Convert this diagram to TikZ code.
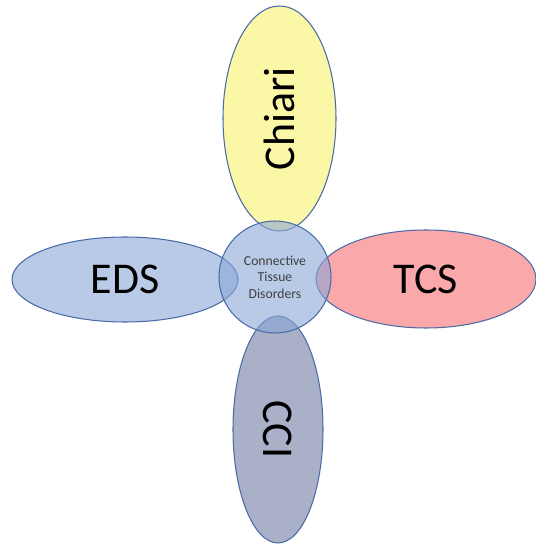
\documentclass[tikz,border=0pt]{standalone}
\usepackage{fontspec}
\setmainfont{Carlito}
\usepackage{xcolor}
\usepackage{tikz}
\usetikzlibrary{shapes.geometric}

\definecolor{rim}{RGB}{74,107,168}
\definecolor{hubblue}{RGB}{138,167,215}
\definecolor{chiariyellow}{RGB}{247,242,108}
\definecolor{tcspink}{RGB}{247,110,113}
\definecolor{ccigray}{RGB}{113,123,163}
\definecolor{hubtext}{RGB}{64,64,64}

\begin{document}
\begin{tikzpicture}
\tikzstyle{petal}=[ellipse,draw=rim,line width=0.6pt,fill opacity=0.6,text opacity=1,inner sep=0pt,font=\fontsize{25}{30}\selectfont]
\tikzstyle{hub}=[circle,draw=rim,line width=0.6pt,fill=hubblue,fill opacity=0.6,text opacity=1,inner sep=0pt,align=center,text=hubtext,font=\fontsize{7.8}{9.4}\selectfont]
\useasboundingbox (0,0) rectangle (10.72,10.88);
\node[petal,fill=chiariyellow,rotate=90,minimum width=4.5cm,minimum height=2.26cm] (chiari) at (5.59,8.51) {Chiari};
\node[petal,fill=hubblue,minimum width=4.52cm,minimum height=1.7cm] (eds) at (2.5,5.29) {EDS};
\node[petal,fill=tcspink,minimum width=4.4cm,minimum height=1.96cm] (tcs) at (8.52,5.3) {TCS};
\node[petal,fill=ccigray,rotate=-90,minimum width=4.54cm,minimum height=1.8cm] (cci) at (5.56,2.29) {CCI};
\node[hub,minimum size=2.24cm] (ctd) at (5.5,5.34) {Connective\\Tissue\\Disorders};
\end{tikzpicture}
\end{document}
